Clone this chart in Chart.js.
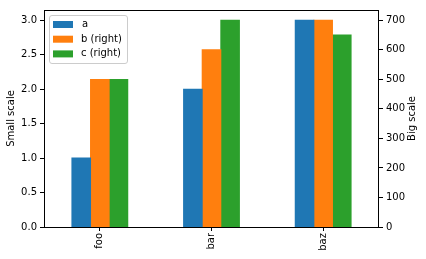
<!DOCTYPE html>
<html>
<head>
<meta charset="utf-8">
<script src="https://cdn.jsdelivr.net/npm/chart.js@4/dist/chart.umd.min.js"></script>
<style>
  html, body { margin: 0; padding: 0; background: #fff; }
  canvas { display: block; }
</style>
</head>
<body>
<canvas id="c" width="426" height="259"></canvas>
<script>
const categories = ['foo', 'bar', 'baz'];
const seriesA = [1, 2, 3];
const seriesB = [500, 600, 700];
const seriesC = [500, 700, 650];
const leftTicks = [0, 0.5, 1.0, 1.5, 2.0, 2.5, 3.0];
const rightTicks = [0, 100, 200, 300, 400, 500, 600, 700];
const leftMax = 3.15;
const rightMax = 735;

Chart.defaults.font.family = '"DejaVu Sans", sans-serif';
Chart.defaults.font.size = 10;
Chart.defaults.color = '#000';

const boxAndLegend = {
  id: 'boxAndLegend',
  afterDatasetsDraw(chart) {
    const ctx = chart.ctx;
    const a = chart.chartArea;
    ctx.save();
    // spines
    ctx.strokeStyle = '#000';
    ctx.lineWidth = 1;
    ctx.strokeRect(Math.round(a.left) + 0.5, Math.round(a.top) + 0.5,
                   Math.round(a.right - a.left) - 1, Math.round(a.bottom - a.top));
    // legend
    const lx = a.left + 5, ly = a.top + 5, lw = 78, lh = 48;
    ctx.beginPath();
    if (ctx.roundRect) ctx.roundRect(lx + 0.5, ly + 0.5, lw, lh, 2.5);
    else ctx.rect(lx + 0.5, ly + 0.5, lw, lh);
    ctx.fillStyle = 'rgba(255,255,255,0.8)';
    ctx.fill();
    ctx.strokeStyle = '#cccccc';
    ctx.stroke();
    ctx.font = '10px "DejaVu Sans", sans-serif';
    ctx.textBaseline = 'middle';
    ctx.textAlign = 'left';
    chart.data.datasets.forEach((ds, i) => {
      const cy = ly + 9.5 + i * 14.7;
      ctx.fillStyle = ds.backgroundColor;
      ctx.fillRect(lx + 4, cy - 3.5, 20, 7);
      ctx.fillStyle = '#000';
      ctx.fillText(ds.label, lx + (i === 0 ? 33 : 32), cy);
    });
    // right axis title (reads bottom-to-top)
    ctx.translate(412, (a.top + a.bottom) / 2);
    ctx.rotate(-Math.PI / 2);
    ctx.textAlign = 'center';
    ctx.fillText('Big scale', 0, 0);
    ctx.restore();
  }
};

new Chart(document.getElementById('c'), {
  type: 'bar',
  data: {
    labels: categories,
    datasets: [
      { label: 'a', data: seriesA, backgroundColor: '#1f77b4', yAxisID: 'yLeft' },
      { label: 'b (right)', data: seriesB, backgroundColor: '#ff7f0e', yAxisID: 'yRight' },
      { label: 'c (right)', data: seriesC, backgroundColor: '#2ca02c', yAxisID: 'yRight' }
    ]
  },
  options: {
    responsive: false,
    devicePixelRatio: 1,
    animation: false,
    layout: { padding: { top: 10, left: 0, right: 0, bottom: 0 } },
    datasets: { bar: { categoryPercentage: 0.5, barPercentage: 1.0, borderWidth: 0, inflateAmount: 0.5 } },
    plugins: { legend: { display: false }, tooltip: { enabled: false } },
    scales: {
      x: {
        type: 'category',
        offset: true,
        border: { display: false },
        grid: { display: true, offset: false, drawOnChartArea: false, drawTicks: true, tickLength: 4, color: '#000' },
        ticks: { minRotation: 90, maxRotation: 90, padding: 2, autoSkip: false },
        afterFit(s) { s.height = 32; }
      },
      yLeft: {
        position: 'left',
        min: 0, max: leftMax,
        border: { display: false },
        grid: { display: true, drawOnChartArea: false, drawTicks: true, tickLength: 4, color: '#000' },
        ticks: { padding: 3, callback: v => Number(v).toFixed(1) },
        afterBuildTicks(s) { s.ticks = leftTicks.map(v => ({ value: v })); },
        title: { display: true, text: 'Small scale', padding: { top: 5, bottom: 0 } },
        afterFit(s) { s.width = 44; }
      },
      yRight: {
        position: 'right',
        min: 0, max: rightMax,
        border: { display: false },
        grid: { display: true, drawOnChartArea: false, drawTicks: true, tickLength: 4, color: '#000' },
        ticks: { padding: 3, callback: v => String(v) },
        afterBuildTicks(s) { s.ticks = rightTicks.map(v => ({ value: v })); },
        afterFit(s) { s.width = 47; }
      }
    }
  },
  plugins: [boxAndLegend]
});
</script>
</body>
</html>
